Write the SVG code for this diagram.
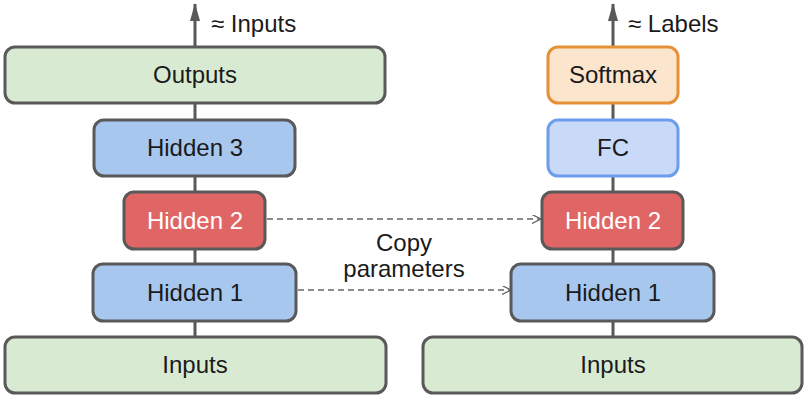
<svg xmlns="http://www.w3.org/2000/svg" width="810" height="401" viewBox="0 0 810 401">
<defs>
<style>
.box{stroke:#595959;stroke-width:3}
.green{fill:#d9ead3}
.blue{fill:#a8c7ef}
.red{fill:#e06666}
.fc{fill:#c9daf8;stroke:#6d9eeb;stroke-width:3}
.soft{fill:#fce5cd;stroke:#e69138;stroke-width:3}
text{font-family:"Liberation Sans",Arial,sans-serif;font-size:24px;fill:#1a1a1a;text-anchor:middle}
.w{fill:#ffffff}
.lbl{text-anchor:start}
.conn{stroke:#595959;stroke-width:3;fill:none}
.dash{stroke:#666666;stroke-width:1.5;stroke-dasharray:6,4;fill:none}
</style>
<marker id="up" viewBox="0 0 18 12" refX="17" refY="6" markerWidth="18" markerHeight="12" markerUnits="userSpaceOnUse" orient="auto">
<path d="M0,1 L18,6 L0,11 Z" fill="#595959"/>
</marker>
<marker id="dh" viewBox="0 0 10 10" refX="9" refY="5" markerWidth="9" markerHeight="9" markerUnits="userSpaceOnUse" orient="auto">
<path d="M0,0 L10,5 L0,10" fill="none" stroke="#666666" stroke-width="1.5"/>
</marker>
</defs>
<g id="connectors">
<line class="conn" x1="195" y1="47" x2="195" y2="4" marker-end="url(#up)"/>
<line class="conn" x1="195" y1="103" x2="195" y2="337"/>
<line class="conn" x1="613" y1="47" x2="613" y2="4" marker-end="url(#up)"/>
<line class="conn" x1="613" y1="103" x2="613" y2="337"/>
<line class="dash" x1="267" y1="219" x2="540" y2="219" marker-end="url(#dh)"/>
<line class="dash" x1="298" y1="290" x2="510" y2="290" marker-end="url(#dh)"/>
</g>
<g id="label-inputs-approx"><text class="lbl" x="211" y="32">≈ Inputs</text></g>
<g id="label-labels-approx"><text class="lbl" x="628" y="32">≈ Labels</text></g>
<g id="label-copy"><text x="404" y="251">Copy</text><text x="404" y="277">parameters</text></g>
<g id="outputs"><rect class="box green" x="5" y="47" width="380" height="56" rx="10"/><text x="195" y="83">Outputs</text></g>
<g id="hidden3"><rect class="box blue" x="94" y="120" width="201" height="56" rx="10"/><text x="195" y="156">Hidden 3</text></g>
<g id="hidden2-left"><rect class="box red" x="124" y="192" width="141" height="57" rx="10"/><text class="w" x="195" y="229">Hidden 2</text></g>
<g id="hidden1-left"><rect class="box blue" x="93" y="264" width="203" height="57" rx="10"/><text x="195" y="301">Hidden 1</text></g>
<g id="inputs-left"><rect class="box green" x="5" y="337" width="381" height="56" rx="10"/><text x="195" y="373">Inputs</text></g>
<g id="softmax"><rect class="soft" x="548" y="47" width="130" height="56" rx="10"/><text x="613" y="83">Softmax</text></g>
<g id="fc"><rect class="fc" x="548" y="120" width="130" height="56" rx="10"/><text x="613" y="156">FC</text></g>
<g id="hidden2-right"><rect class="box red" x="542" y="192" width="141" height="57" rx="10"/><text class="w" x="613" y="229">Hidden 2</text></g>
<g id="hidden1-right"><rect class="box blue" x="511" y="264" width="203" height="57" rx="10"/><text x="613" y="301">Hidden 1</text></g>
<g id="inputs-right"><rect class="box green" x="423" y="337" width="379" height="56" rx="10"/><text x="613" y="373">Inputs</text></g>
</svg>
